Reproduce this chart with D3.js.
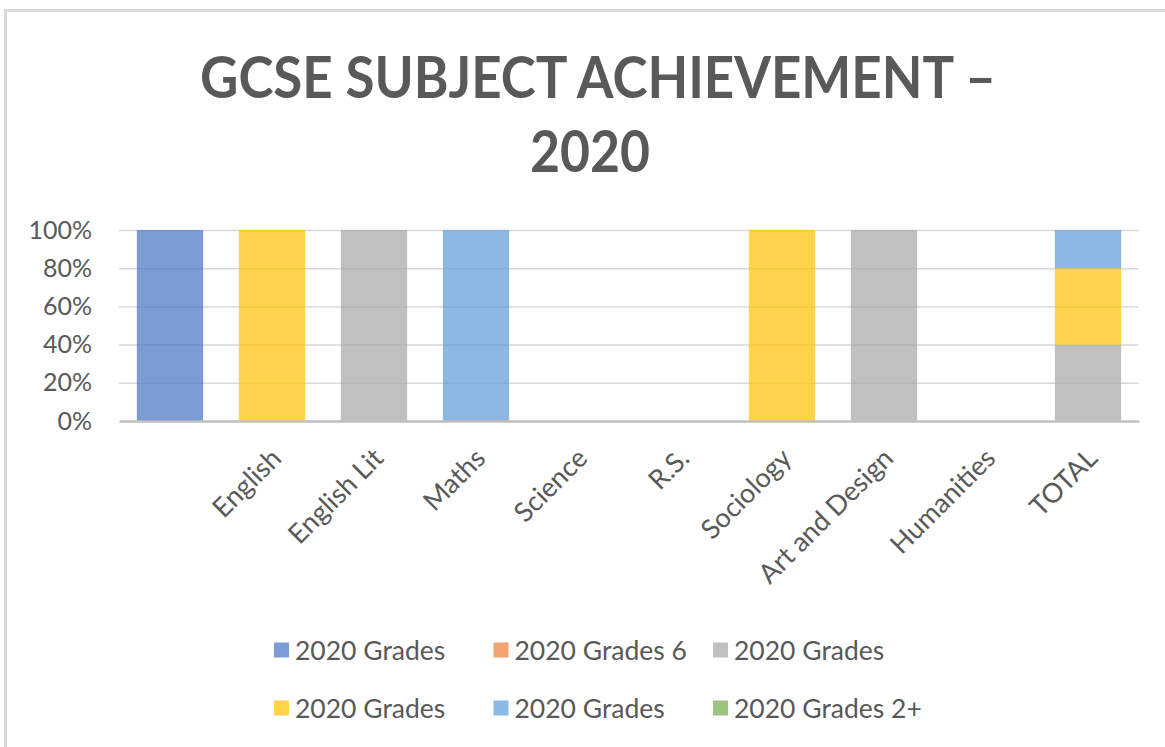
<!DOCTYPE html>
<html>
<head>
<meta charset="utf-8">
<script src="https://cdn.jsdelivr.net/npm/d3@7"></script>
<style>
  html, body { margin: 0; padding: 0; background: #fff; }
  svg { display: block; font-family: Lato, "Open Sans", sans-serif; }
</style>
</head>
<body>
<script>
//-----------------Data----------------

const categories = ["", "English", "English Lit", "Maths", "Science", "R.S.", "Sociology", "Art and Design", "Humanities", "TOTAL"];
const seriesNames = ["2020 Grades", "2020 Grades 6", "2020 Grades", "2020 Grades", "2020 Grades", "2020 Grades 2+"];
const seriesColors = ["#4472C4", "#ED7D31", "#A5A5A5", "#FFC000", "#5B9BD5", "#70AD47"];

// percentage share per category, one array per series
const s1 = [100, 0, 0, 0, 0, 0, 0, 0, 0, 0];
const s2 = [0, 0, 0, 0, 0, 0, 0, 0, 0, 0];
const s3 = [0, 0, 100, 0, 0, 0, 0, 100, 0, 40];
const s4 = [0, 100, 0, 0, 0, 0, 100, 0, 0, 40];
const s5 = [0, 0, 0, 100, 0, 0, 0, 0, 0, 20];
const s6 = [0, 0, 0, 0, 0, 0, 0, 0, 0, 0];
const yTicks = [0, 20, 40, 60, 80, 100];

//-----------------Main svg----------------

const width = 1165;
const height = 747;
const margin = { left: 119, right: 26, top: 230, bottom: 326 };
const plotRight = width - margin.right;
const plotBottom = height - margin.bottom;

const svg = d3.select("body").append("svg").attr("width", width).attr("height", height);

// chart frame (only top and left edges are visible in the crop)
svg.append("line").attr("x1", 5.5).attr("x2", width).attr("y1", 10.5).attr("y2", 10.5)
  .style("stroke", "#d9d9d9").style("stroke-width", 3);
svg.append("line").attr("x1", 5.5).attr("x2", 5.5).attr("y1", 9).attr("y2", height)
  .style("stroke", "#d9d9d9").style("stroke-width", 3);

//-----------------Title----------------

const titleColor = "#595959";
svg.append("text")
  .text("GCSE SUBJECT ACHIEVEMENT –")
  .attr("x", 598).attr("y", 98)
  .attr("textLength", 796).attr("lengthAdjust", "spacingAndGlyphs")
  .style("text-anchor", "middle").style("font-size", "57px").style("font-weight", 700)
  .style("fill", titleColor);
svg.append("text")
  .text("2020")
  .attr("x", 590).attr("y", 172)
  .attr("textLength", 120).attr("lengthAdjust", "spacingAndGlyphs")
  .style("text-anchor", "middle").style("font-size", "57px").style("font-weight", 700)
  .style("fill", titleColor);

//-----------------Scales----------------

const xScale = d3.scaleBand()
  .domain(d3.range(categories.length))
  .range([margin.left, plotRight])
  .paddingInner(0.35)
  .paddingOuter(0.175);

const yScale = d3.scaleLinear().domain([0, 100]).range([plotBottom, margin.top]);

//-----------------Grid + y axis----------------

const yAxis = d3.axisLeft(yScale)
  .tickValues(yTicks)
  .tickSize(-(plotRight - margin.left))
  .tickPadding(27)
  .tickFormat((d) => d + "%");

const yG = svg.append("g")
  .attr("id", "y-axis")
  .attr("transform", "translate(" + margin.left + ",0)")
  .call(yAxis);
yG.select(".domain").remove();
yG.selectAll(".tick line").style("stroke", "#d9d9d9").style("stroke-width", 1.5);
yG.selectAll(".tick text")
  .style("font-size", "25px").style("fill", "#595959")
  .style("font-family", "Lato, sans-serif");
yG.selectAll(".tick").filter((d) => d === 0).select("line").remove();

//-----------------Stacked bars----------------

const rows = categories.map((c, i) => {
  const r = { cat: i };
  [s1, s2, s3, s4, s5, s6].forEach((s, k) => (r["s" + k] = s[i]));
  return r;
});
const keys = seriesNames.map((n, k) => "s" + k);
const stacked = d3.stack().keys(keys)(rows);

svg.append("g")
  .selectAll("g")
  .data(stacked)
  .enter()
  .append("g")
  .style("fill", (d, k) => seriesColors[k])
  .style("fill-opacity", 0.7)
  .selectAll("rect")
  .data((d) => d.filter((p) => p[1] - p[0] > 0))
  .enter()
  .append("rect")
  .attr("x", (p) => xScale(p.data.cat))
  .attr("width", xScale.bandwidth())
  .attr("y", (p) => yScale(p[1]))
  .attr("height", (p) => yScale(p[0]) - yScale(p[1]));

//-----------------x axis----------------

const xAxis = d3.axisBottom(xScale).tickSize(0).tickFormat((i) => categories[i]);
const xG = svg.append("g")
  .attr("id", "x-axis")
  .attr("transform", "translate(0," + plotBottom + ")")
  .call(xAxis);
xG.select(".domain").style("stroke", "#bfbfbf").style("stroke-width", 2.5);
xG.selectAll(".tick text")
  .attr("x", 0).attr("y", 0).attr("dy", 0)
  .attr("transform", "translate(" + 11 + "," + 39 + ") rotate(-45)")
  .style("text-anchor", "end")
  .style("font-size", "27px").style("fill", "#595959")
  .style("font-family", "Lato, sans-serif");

//-----------------Legend----------------

const legend = svg.append("g").attr("id", "legend");
const legX = [274, 493.5, 713];
const legY = [650, 708];
seriesNames.forEach((name, k) => {
  const gx = legX[k % 3];
  const gy = legY[Math.floor(k / 3)];
  legend.append("rect")
    .attr("x", gx).attr("y", gy - 7.5)
    .attr("width", 15).attr("height", 15)
    .style("fill", seriesColors[k]).style("fill-opacity", 0.7);
  legend.append("text")
    .text(name)
    .attr("x", gx + 21).attr("y", gy)
    .attr("dy", "0.36em")
    .style("font-size", "26.5px").style("fill", "#595959");
});
</script>
</body>
</html>
